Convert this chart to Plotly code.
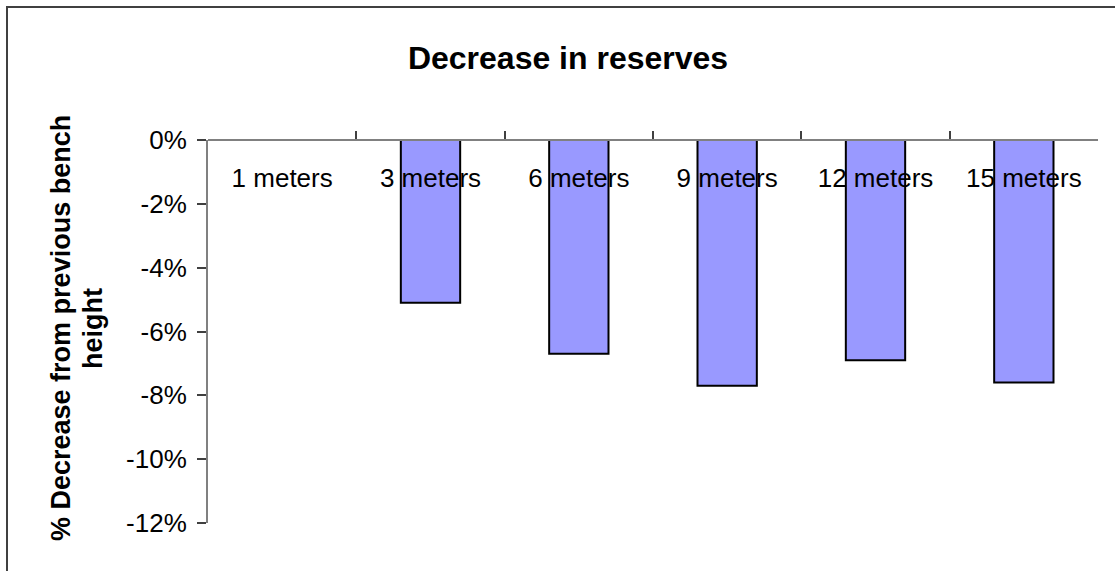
import plotly.graph_objects as go

# Bench height categories and the change in reserves versus the previous height
categories = ["1 meters", "3 meters", "6 meters", "9 meters", "12 meters", "15 meters"]
decrease = [0.0, -0.051, -0.067, -0.077, -0.069, -0.076]

y_tick_values = [0.0, -0.02, -0.04, -0.06, -0.08, -0.10, -0.12]
y_tick_labels = ["0%", "-2%", "-4%", "-6%", "-8%", "-10%", "-12%"]

chart_title = "Decrease in reserves"
y_title_lines = ["% Decrease from previous bench", "height"]

W, H = 1115, 571
L, R, T, B = 208, 17, 140, 48
plot_w = W - L - R
plot_h = H - T - B

FONT = "Liberation Sans, Arial, sans-serif"

fig = go.Figure(
    go.Bar(
        x=categories,
        y=decrease,
        marker=dict(color="#9999FF", line=dict(color="#000000", width=2)),
        width=0.4,
    )
)

fig.update_layout(
    width=W,
    height=H,
    margin=dict(l=L, r=R, t=T, b=B, pad=0),
    paper_bgcolor="white",
    plot_bgcolor="white",
    showlegend=False,
    font=dict(family=FONT, size=26, color="black"),
    title=dict(
        text="<b>" + chart_title + "</b>",
        font=dict(family=FONT, size=32, color="black"),
        xref="container", yref="container",
        x=568 / W, y=1 - 58 / H,
        xanchor="center", yanchor="middle",
    ),
    xaxis=dict(
        type="category",
        anchor="free",
        position=1,
        side="bottom",
        showline=True,
        linecolor="#808080",
        linewidth=2,
        ticks="inside",
        ticklen=8,
        tickwidth=1.5,
        tickcolor="#404040",
        tickson="boundaries",
        showgrid=False,
        zeroline=False,
        ticklabelstandoff=15,
        tickfont=dict(family=FONT, size=26, color="black"),
        automargin=False,
    ),
    yaxis=dict(
        range=[-0.12, 0],
        tickvals=y_tick_values,
        ticktext=y_tick_labels,
        showline=True,
        linecolor="#808080",
        linewidth=2,
        ticks="outside",
        ticklen=9,
        tickwidth=1.5,
        tickcolor="#404040",
        showgrid=False,
        zeroline=False,
        ticklabelstandoff=5,
        tickfont=dict(family=FONT, size=26, color="black"),
        automargin=False,
    ),
)

# Rotated two-line axis title
for line_text, cx in zip(y_title_lines, [61, 93]):
    fig.add_annotation(
        text="<b>" + line_text + "</b>",
        xref="paper", yref="paper",
        x=(cx - L) / plot_w, y=1 - (328 - T) / plot_h,
        xanchor="center", yanchor="middle",
        textangle=-90,
        showarrow=False,
        font=dict(family=FONT, size=27, color="black"),
    )

# Chart frame
fig.add_shape(
    type="rect",
    xref="paper", yref="paper",
    x0=(7 - L) / plot_w, x1=(W + 20 - L) / plot_w,
    y0=-0.5, y1=1 + (T - 7) / plot_h,
    line=dict(color="#404040", width=2),
    fillcolor="rgba(0,0,0,0)",
    layer="below",
)

fig.write_html("out.html")
